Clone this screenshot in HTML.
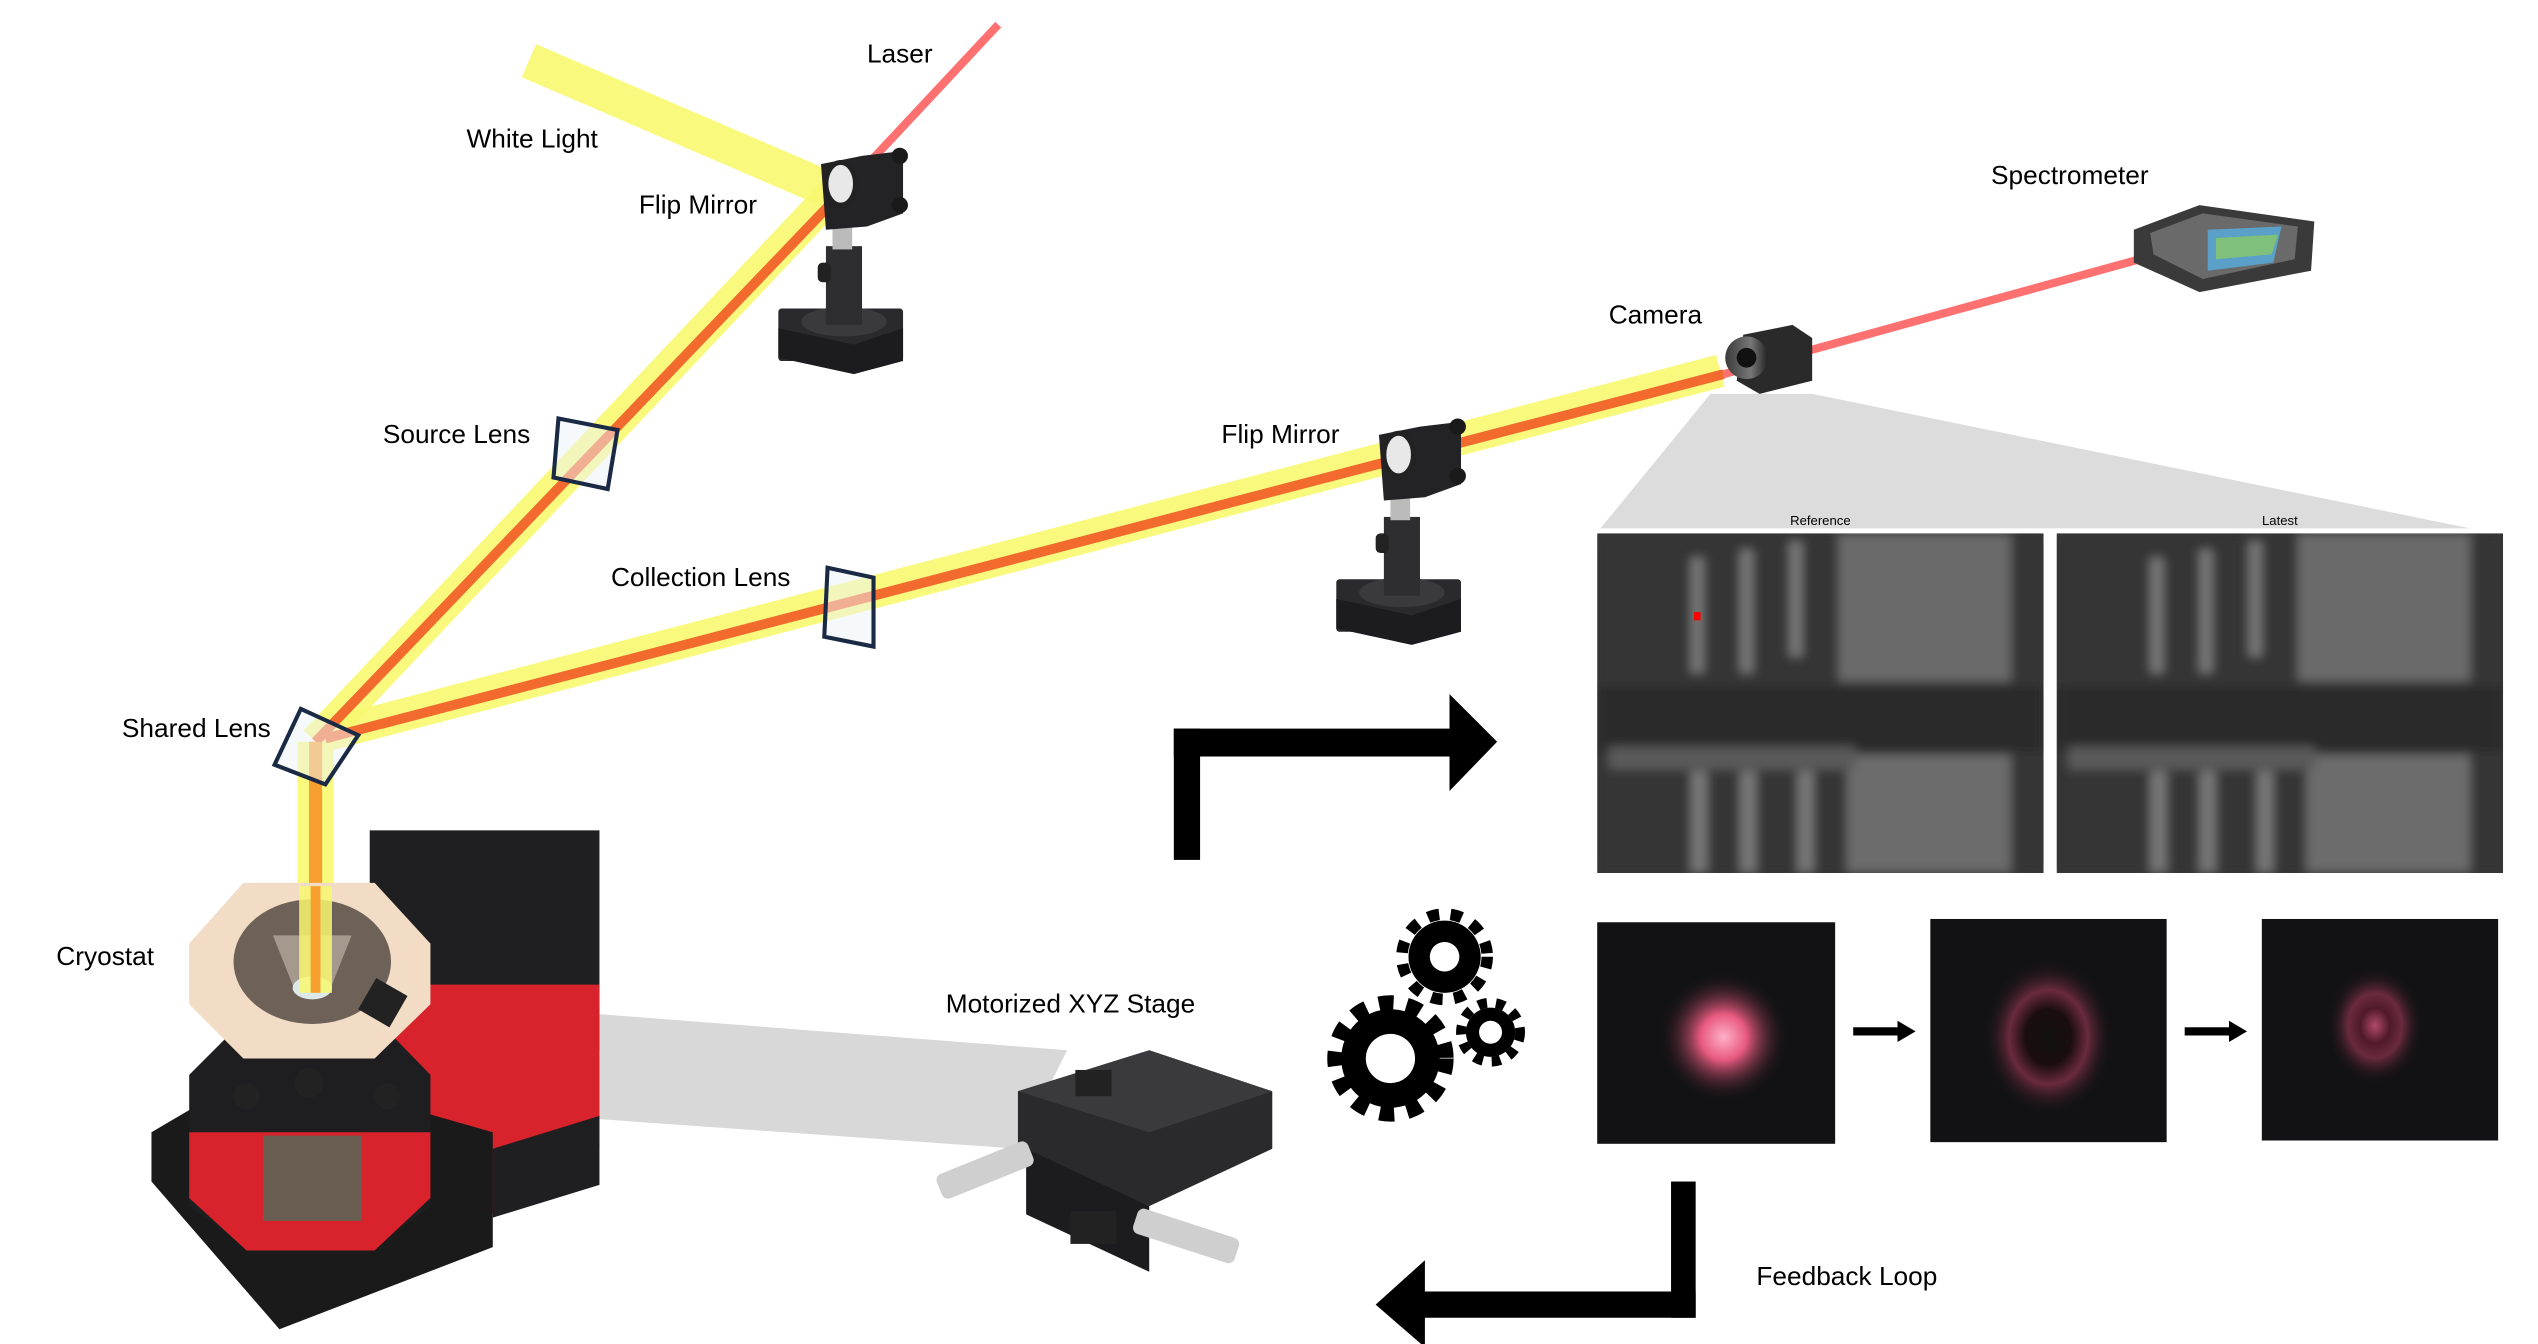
<!DOCTYPE html>
<html><head><meta charset="utf-8"><style>
html,body{margin:0;padding:0;background:#fff;}
svg{display:block;}
text{font-family:"Liberation Sans",sans-serif;fill:#000;}
</style></head><body>
<svg width="2538" height="1344" viewBox="0 0 1546 819" xmlns="http://www.w3.org/2000/svg">
<defs>
<g id="mount">
  <rect x="474" y="188" width="76" height="32" rx="2" fill="#2a2a2c"/>
  <polygon points="474,200 520,210 550,200 550,220 520,228 474,218" fill="#1c1c1e"/>
  <ellipse cx="514" cy="196" rx="26" ry="9" fill="#3a3a3c"/>
  <rect x="503" y="150" width="22" height="48" fill="#2e2e30"/>
  <rect x="507" y="136" width="12" height="16" fill="#bbb"/>
  <rect x="498" y="160" width="8" height="12" rx="3" fill="#222"/>
  <polygon points="500,100 525,95 550,92 550,130 528,138 503,140" fill="#232325"/>
  <ellipse cx="512" cy="112" rx="9" ry="13" fill="#e8e8e8" stroke="#222" stroke-width="3"/>
  <circle cx="548" cy="95" r="5" fill="#1a1a1a"/>
  <circle cx="548" cy="125" r="5" fill="#1a1a1a"/>
</g>
<radialGradient id="spot1"><stop offset="0" stop-color="#ffb0c8"/><stop offset="0.35" stop-color="#e85a80"/><stop offset="1" stop-color="#111" stop-opacity="0"/></radialGradient>
<radialGradient id="ring"><stop offset="0" stop-color="#111"/><stop offset="0.35" stop-color="#1a0d10"/><stop offset="0.6" stop-color="#6a2a3e"/><stop offset="1" stop-color="#111" stop-opacity="0"/></radialGradient>
<radialGradient id="spot3"><stop offset="0" stop-color="#b04a66"/><stop offset="0.3" stop-color="#501a2a"/><stop offset="0.55" stop-color="#6a2a3e"/><stop offset="1" stop-color="#111" stop-opacity="0"/></radialGradient>
<linearGradient id="cam" x1="0" x2="1"><stop offset="0" stop-color="#3a3a3a"/><stop offset="0.6" stop-color="#777"/><stop offset="1" stop-color="#222"/></linearGradient>
<filter id="blur" x="0" y="0" width="1" height="1"><feGaussianBlur stdDeviation="3"/></filter>
<clipPath id="c1"><rect x="973" y="325" width="272" height="207"/></clipPath>
</defs>

<polygon points="1042,240 1104,240 1505,322 975,322" fill="#dcdcdc"/>
<polygon points="365,618 365,682 620,700 650,640" fill="#d8d8d8"/>

<g stroke="#f8f870" stroke-opacity="0.9" stroke-linecap="butt" fill="none">
  <line x1="322" y1="37" x2="508" y2="117" stroke-width="22"/>
  <line x1="508" y1="117" x2="192" y2="452" stroke-width="20"/>
  <line x1="192" y1="452" x2="192" y2="605" stroke-width="22"/>
  <line x1="198" y1="448" x2="1048" y2="226" stroke-width="20"/>
</g>
<g stroke-linecap="butt" fill="none">
  <line x1="608" y1="15" x2="508" y2="122" stroke="#ff7070" stroke-width="5"/>
  <line x1="508" y1="122" x2="192" y2="452" stroke="#f26a2e" stroke-width="6"/>
  <line x1="192" y1="452" x2="192" y2="605" stroke="#f7a030" stroke-width="8"/>
  <line x1="198" y1="450" x2="1050" y2="228" stroke="#f26a2e" stroke-width="6"/>
  <line x1="1050" y1="228" x2="1318" y2="154" stroke="#ff7070" stroke-width="5"/>
</g>

<use href="#mount"/>
<use href="#mount" transform="translate(340,165)"/>

<polygon points="340,255 376,262 370,298 337,291" fill="#eef3f8" fill-opacity="0.5" stroke="#1a2a45" stroke-width="2.5"/>
<polygon points="504,346 532,352 532,394 502,388" fill="#eef3f8" fill-opacity="0.5" stroke="#1a2a45" stroke-width="2.5"/>
<polygon points="183,432 218,448 198,478 167,466" fill="#eef3f8" fill-opacity="0.5" stroke="#1a2a45" stroke-width="2.5"/>

<polygon points="1062,204 1092,198 1104,206 1104,232 1072,240 1058,232" fill="#2a2a2a"/>
<circle cx="1064" cy="218" r="13" fill="url(#cam)"/>
<circle cx="1064" cy="218" r="6" fill="#111"/>

<polygon points="1300,140 1340,125 1410,135 1408,165 1340,178 1300,160" fill="#3a3a3a"/>
<polygon points="1310,142 1342,130 1400,138 1398,158 1342,170 1312,155" fill="#6a6a6a"/>
<polygon points="1345,140 1390,138 1385,160 1345,165" fill="#5aa0c8"/>
<polygon points="1350,145 1388,143 1384,155 1350,158" fill="#8ecf5a" fill-opacity="0.7"/>

<rect x="225" y="506" width="140" height="134" fill="#1f1f21"/>
<polygon points="225,600 365,600 365,700 300,740 225,740" fill="#d8222c"/>
<polygon points="300,700 365,680 365,722 300,742" fill="#1f1f21"/>
<polygon points="92,690 160,650 300,690 300,760 170,810 92,720" fill="#1a1a1a"/>
<polygon points="115,655 150,620 228,620 262,655 262,735 228,760 150,760 115,735" fill="#1e1e20"/>
<polygon points="115,690 262,690 262,730 228,762 150,762 115,730" fill="#d8222c"/>
<rect x="160" y="692" width="60" height="52" fill="#6a5e52"/>
<polygon points="115,575 148,538 228,538 262,575 262,612 228,645 148,645 115,612" fill="#f2dcc6"/>
<ellipse cx="190" cy="586" rx="48" ry="38" fill="#6e6258"/>
<polygon points="166,570 214,570 200,605 180,605" fill="#c9beb0" opacity="0.6"/>
<ellipse cx="190" cy="602" rx="12" ry="7" fill="#dde8e8"/>
<rect x="222" y="600" width="22" height="22" fill="#222" transform="rotate(30 233 611)"/>
<g fill="#222"><circle cx="150" cy="668" r="8"/><circle cx="188" cy="660" r="9"/><circle cx="236" cy="668" r="8"/></g>
<g fill="#f8f870" opacity="0.85"><rect x="182" y="540" width="20" height="65"/></g>
<rect x="189" y="540" width="6" height="65" fill="#f7a030"/>

<polygon points="620,665 700,640 775,665 775,700 700,735 620,700" fill="#2a2a2c"/>
<polygon points="620,665 700,640 775,665 700,690" fill="#3a3a3c"/>
<polygon points="625,700 700,735 700,775 625,740" fill="#1c1c1e"/>
<rect x="570" y="705" width="60" height="16" rx="4" fill="#cfcfcf" transform="rotate(-22 600 713)"/>
<rect x="690" y="745" width="65" height="16" rx="4" fill="#cfcfcf" transform="rotate(18 722 753)"/>
<rect x="652" y="738" width="28" height="20" fill="#222"/>
<rect x="655" y="652" width="22" height="16" fill="#222"/>

<text x="1109" y="320" font-size="8" text-anchor="middle">Reference</text>
<text x="1389" y="320" font-size="8" text-anchor="middle">Latest</text>
<g id="img1" clip-path="url(#c1)">
<rect x="973" y="325" width="272" height="207" fill="#363636"/>
<g filter="url(#blur)">
<rect x="973" y="325" width="272" height="207" fill="#363636"/>
<rect x="1120" y="325" width="105" height="90" fill="#6a6a6a"/>
<rect x="1125" y="460" width="100" height="72" fill="#6c6c6c"/>
<rect x="973" y="418" width="272" height="40" fill="#2c2c2c"/>
<rect x="980" y="455" width="150" height="14" fill="#5a5a5a"/>
<g fill="#777"><rect x="1030" y="470" width="10" height="62"/><rect x="1060" y="470" width="10" height="62"/><rect x="1095" y="470" width="10" height="62"/><rect x="1030" y="340" width="8" height="70"/><rect x="1060" y="335" width="8" height="75"/><rect x="1090" y="330" width="8" height="70"/></g>
</g>
</g>
<use href="#img1" transform="translate(280,0)"/>
<rect x="1032" y="373" width="4" height="5" fill="#ff0000"/>

<rect x="973" y="562" width="145" height="135" fill="#121214"/>
<circle cx="1050" cy="632" r="40" fill="url(#spot1)"/>
<rect x="1176" y="560" width="144" height="136" fill="#121214"/>
<ellipse cx="1248" cy="632" rx="40" ry="48" fill="url(#ring)"/>
<rect x="1378" y="560" width="144" height="135" fill="#121214"/>
<ellipse cx="1447" cy="625" rx="30" ry="36" fill="url(#spot3)"/>
<g fill="#000">
  <rect x="1129" y="626" width="28" height="5"/><polygon points="1156,622 1167,628.5 1156,635"/>
  <rect x="1331" y="626" width="28" height="5"/><polygon points="1358,622 1369,628.5 1358,635"/>
</g>

<g fill="#000">
  <rect x="715" y="444" width="16" height="80"/>
  <rect x="715" y="444" width="172" height="17"/>
  <polygon points="883,423 912,452 883,482"/>
  <rect x="1018" y="720" width="15" height="83"/>
  <rect x="865" y="787" width="168" height="16"/>
  <polygon points="868,768 838,795 868,821"/>
</g>

<g fill="#000">
  <circle cx="880" cy="583" r="22"/>
  <g stroke="#000" stroke-width="7" stroke-dasharray="7 7"><circle cx="880" cy="583" r="26" fill="none"/></g>
  <circle cx="880" cy="583" r="9" fill="#fff"/>
  <circle cx="847" cy="645" r="30"/>
  <g stroke="#000" stroke-width="9" stroke-dasharray="9 8"><circle cx="847" cy="645" r="34" fill="none"/></g>
  <circle cx="847" cy="645" r="15" fill="#fff"/>
  <circle cx="908" cy="629" r="15"/>
  <g stroke="#000" stroke-width="6" stroke-dasharray="5.5 5.5"><circle cx="908" cy="629" r="18" fill="none"/></g>
  <circle cx="908" cy="629" r="7" fill="#fff"/>
</g>

<g font-size="16">
<text x="528" y="38">Laser</text>
<text x="284" y="90">White Light</text>
<text x="389" y="130">Flip Mirror</text>
<text x="233" y="270">Source Lens</text>
<text x="372" y="357">Collection Lens</text>
<text x="74" y="449">Shared Lens</text>
<text x="34" y="588">Cryostat</text>
<text x="576" y="617">Motorized XYZ Stage</text>
<text x="744" y="270">Flip Mirror</text>
<text x="980" y="197">Camera</text>
<text x="1213" y="112">Spectrometer</text>
<text x="1070" y="783">Feedback Loop</text>
</g>
</svg>
</body></html>
